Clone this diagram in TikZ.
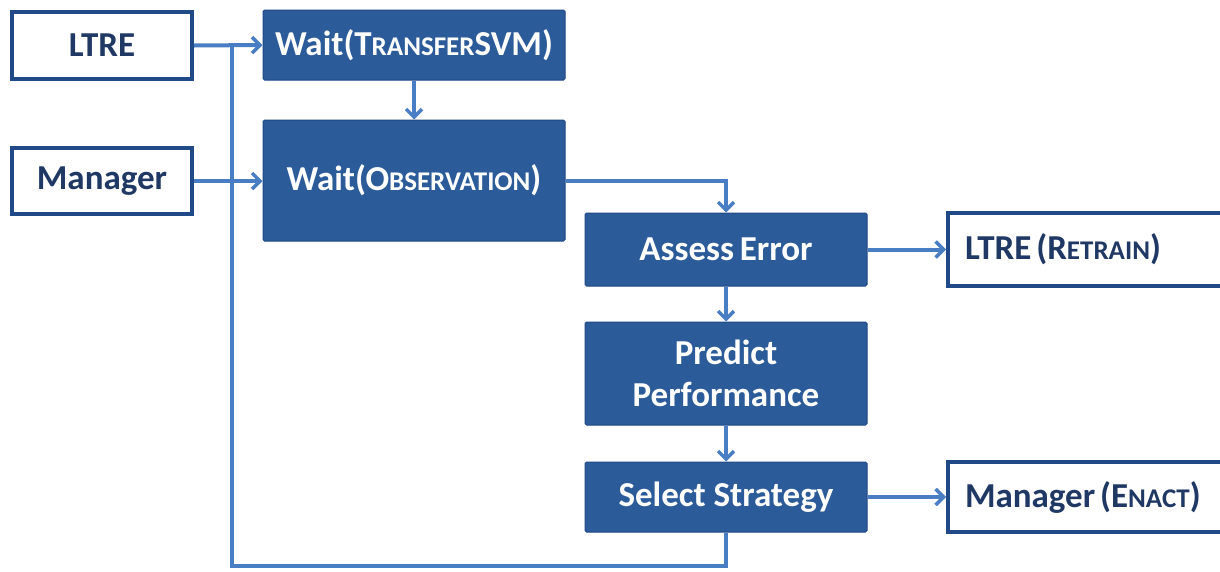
\documentclass[tikz,border=0pt]{standalone}
\usepackage{fontspec}
\setmainfont{Carlito}
\usetikzlibrary{arrows.meta}
\definecolor{boxfill}{RGB}{43,91,152}
\definecolor{boxline}{RGB}{31,73,135}
\definecolor{navytext}{RGB}{31,56,100}
\definecolor{conn}{RGB}{74,126,196}
\newcommand\fsc[2]{#1{\fontsize{27}{27}\selectfont #2}}
\tikzset{
  darkbox/.style={draw=boxline, line width=1pt, fill=boxfill, text=white, font=\fontsize{35}{42}\selectfont\bfseries, align=center, inner sep=0pt, rounded corners=1.5pt},
  whitebox/.style={draw=boxline, line width=4pt, fill=white, text=navytext, font=\fontsize{35}{42}\selectfont\bfseries, align=center, inner sep=0pt},
  conline/.style={draw=conn, line width=4pt},
  conarrow/.style={conline, -{Straight Barb[length=8pt,width=16pt,line width=3.5pt]}}
}
\begin{document}
\begin{tikzpicture}[x=1pt,y=-1pt]
\useasboundingbox (0,0) rectangle (1220,571);
\fill[white] (0,0) rectangle (1220,571);
\node[whitebox, minimum width=180, minimum height=67] (ltre) at (102,45.5) {LTRE};
\node[whitebox, minimum width=180, minimum height=66] (mgr) at (102,181) {Manager};
\node[darkbox, minimum width=302, minimum height=70] (wts) at (414,45) {Wait(\fsc{T}{RANSFER}SVM)};
\node[darkbox, minimum width=302, minimum height=121] (wob) at (414,180.5) {Wait(\fsc{O}{BSERVATION})};
\node[darkbox, minimum width=282, minimum height=73] (ass) at (726,249.5) {Assess\,Error};
\node[darkbox, minimum width=282, minimum height=103] (pred) at (726,373.5) {Predict\\Performance};
\node[darkbox, minimum width=282, minimum height=70] (sel) at (726,497) {Select Strategy};
\node[whitebox, minimum width=284, minimum height=73, text width=270, align=left] (retr) at (1090,249.5) {\hspace*{10pt}LTRE\kern5pt(\fsc{R}{ETRAIN})};
\node[whitebox, minimum width=284, minimum height=70, text width=270, align=left] (enact) at (1090,497) {\hspace*{10pt}Manager\kern5pt(\fsc{E}{NACT})};
\coordinate (j) at (232,45.5);
\coordinate (fb) at (232,566);
\draw[conarrow] (ltre.east) -- (wts.west);
\draw[conarrow] (mgr.east) -- (mgr.east -| wob.west);
\draw[conarrow] (wts.south) -- (wob.north);
\draw[conarrow] (wob.east) -| (ass.north);
\draw[conarrow] (ass.south) -- (pred.north);
\draw[conarrow] (pred.south) -- (sel.north);
\draw[conarrow] (ass.east) -- (retr.west);
\draw[conarrow] (sel.east) -- (enact.west);
\draw[conline] (sel.south) |- (fb) -- (j);
\end{tikzpicture}
\end{document}
